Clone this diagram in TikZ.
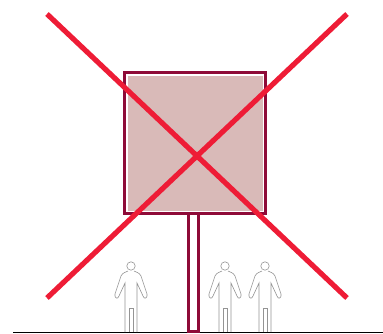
\documentclass[tikz,border=0pt]{standalone}
\usepackage{tikz}
\definecolor{signred}{HTML}{8E0B38}
\definecolor{signfill}{HTML}{D9BAB8}
\definecolor{crossred}{HTML}{EE1C36}
\tikzset{
  signline/.style={draw=signred, line width=1.8pt},
  crossline/.style={draw=crossred, line width=3.9pt},
  figureline/.style={draw=black!42, line width=0.45pt},
  person/.pic={
    \draw[figureline] (0,-66) circle (4.2);
    \draw[figureline]
      (-3,-61) .. controls (-5,-59.5) and (-8,-60) .. (-10,-56) --
      (-16,-38) .. controls (-17,-34) and (-13,-32) .. (-12,-36) --
      (-6,-49) -- (-6,0);
    \draw[figureline]
      (3,-61) .. controls (5,-59.5) and (8,-60) .. (10,-56) --
      (16,-38) .. controls (17,-34) and (13,-32) .. (12,-36) --
      (6,-49) -- (6,0);
    \draw[figureline] (-2,0) -- (-2,-24) -- (2,-24) -- (2,0);
  }
}
\begin{document}
\begin{tikzpicture}[x=0.75pt,y=-0.75pt]
\useasboundingbox (0,0) rectangle (383,333);
% ground
\draw[black, line width=0.8pt] (13,332.5) -- (383,332.5);
% sign board and post
\draw[signline] (188.5,214) -- (188.5,331.5) -- (198.5,331.5) -- (198.5,214);
\draw[signline] (124.5,72.5) rectangle (265.5,213.5);
\fill[signfill] (127.5,75.5) rectangle (262.5,210.5);
% people
\pic at (131,332) {person};
\pic at (225,332) {person};
\pic at (265,332) {person};
% cross
\draw[crossline] (47,14) -- (347,298);
\draw[crossline] (347,14) -- (47,298);
\end{tikzpicture}
\end{document}
